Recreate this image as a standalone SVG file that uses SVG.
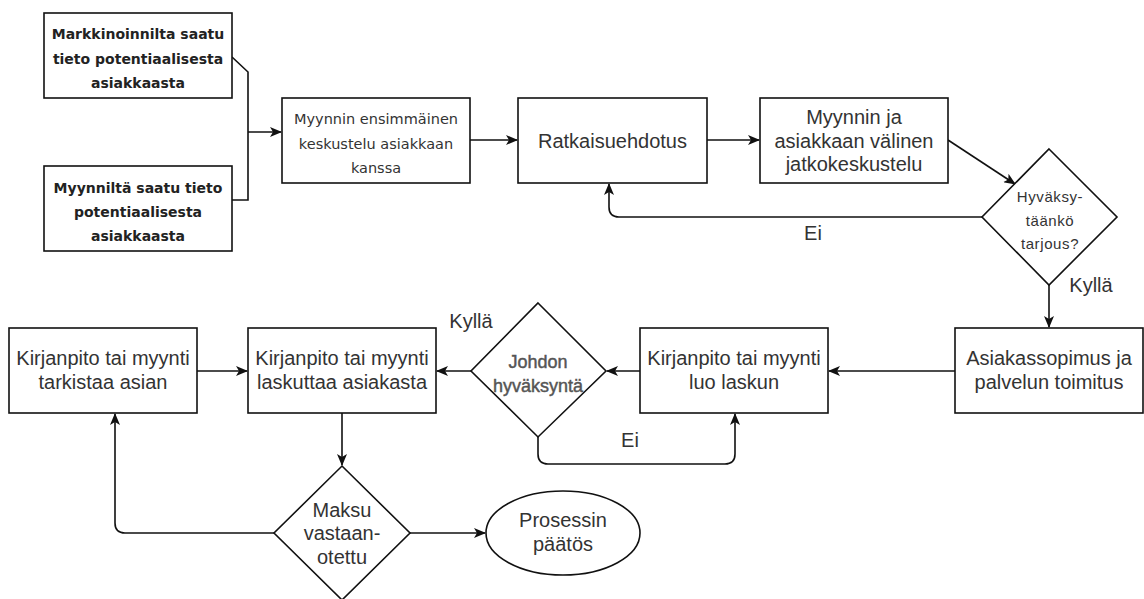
<svg xmlns="http://www.w3.org/2000/svg" width="1144" height="599" viewBox="0 0 1144 599">
  <style>
    .box { fill: #ffffff; stroke: #111111; stroke-width: 1.6; }
    .edge { fill: none; stroke: #111111; stroke-width: 1.6; }
    .t { font-family: "Liberation Sans", Arial, sans-serif; font-size: 20px; fill: #333333; text-anchor: middle; }
    .ts { font-family: "Liberation Sans", Arial, sans-serif; font-size: 15px; fill: #333333; text-anchor: middle; letter-spacing: 0.6px; }
    .tm { font-family: "Liberation Sans", Arial, sans-serif; font-size: 18px; fill: #555555; stroke: #555555; stroke-width: 0.45px; text-anchor: middle; }
    .tb { font-family: "DejaVu Sans", Verdana, sans-serif; font-size: 14px; font-weight: bold; fill: #222222; text-anchor: middle; }
    .tr { font-family: "DejaVu Sans", Verdana, sans-serif; font-size: 14.5px; fill: #333333; text-anchor: middle; }
  </style>
  <defs>
    <marker id="arrow" viewBox="0 0 12 10" refX="11" refY="5" markerWidth="12" markerHeight="10" markerUnits="userSpaceOnUse" orient="auto">
      <path d="M0,0 L12,5 L0,10 L3,5 Z" fill="#111111"/>
    </marker>
  </defs>
  <rect width="1144" height="599" fill="#ffffff"/>

  <!-- connectors -->
  <g id="connectors">
    <path class="edge" d="M232,57 L248,72 L248,200 L232,200"/>
    <path class="edge" d="M248,132 L281,132" marker-end="url(#arrow)"/>
    <path class="edge" d="M470,140 L517,140" marker-end="url(#arrow)"/>
    <path class="edge" d="M707,140 L759,140" marker-end="url(#arrow)"/>
    <path class="edge" d="M948,140 L1015,184" marker-end="url(#arrow)"/>
    <path class="edge" d="M982,217 L619,217 Q609,217 609,207 L609,184" marker-end="url(#arrow)"/>
    <path class="edge" d="M1049,285 L1049,327" marker-end="url(#arrow)"/>
    <path class="edge" d="M955,371 L829,371" marker-end="url(#arrow)"/>
    <path class="edge" d="M640,371 L607,371" marker-end="url(#arrow)"/>
    <path class="edge" d="M538,437 L538,454 Q538,464 548,464 L725,464 Q735,464 735,454 L735,414" marker-end="url(#arrow)"/>
    <path class="edge" d="M471,371 L437,371" marker-end="url(#arrow)"/>
    <path class="edge" d="M197,371 L247,371" marker-end="url(#arrow)"/>
    <path class="edge" d="M342,413 L342,465" marker-end="url(#arrow)"/>
    <path class="edge" d="M274,533 L125,533 Q115,533 115,523 L115,414" marker-end="url(#arrow)"/>
    <path class="edge" d="M410,533 L485,533" marker-end="url(#arrow)"/>
    <text class="t" x="813" y="240">Ei</text>
    <text class="t" x="1091" y="292">Kyllä</text>
    <text class="t" x="471" y="328">Kyllä</text>
    <text class="t" x="630" y="447">Ei</text>
  </g>

  <g id="lead-marketing">
    <rect class="box" x="44" y="13" width="188" height="85"/>
    <text class="tb" x="138" y="39">Markkinoinnilta saatu</text>
    <text class="tb" x="138" y="64">tieto potentiaalisesta</text>
    <text class="tb" x="138" y="88">asiakkaasta</text>
  </g>

  <g id="lead-sales">
    <rect class="box" x="44" y="166" width="188" height="85"/>
    <text class="tb" x="138" y="193">Myynniltä saatu tieto</text>
    <text class="tb" x="138" y="217">potentiaalisesta</text>
    <text class="tb" x="138" y="241">asiakkaasta</text>
  </g>

  <g id="first-meeting">
    <rect class="box" x="282" y="98" width="188" height="85"/>
    <text class="tr" x="376" y="124">Myynnin ensimmäinen</text>
    <text class="tr" x="376" y="149">keskustelu asiakkaan</text>
    <text class="tr" x="376" y="173">kanssa</text>
  </g>

  <g id="proposal">
    <rect class="box" x="518" y="98" width="189" height="85"/>
    <text class="t" x="612.5" y="147.5">Ratkaisuehdotus</text>
  </g>

  <g id="follow-up">
    <rect class="box" x="760" y="98" width="188" height="85"/>
    <text class="t" x="854" y="124">Myynnin ja</text>
    <text class="t" x="854" y="147.5">asiakkaan välinen</text>
    <text class="t" x="854" y="171">jatkokeskustelu</text>
  </g>

  <g id="offer-accepted">
    <polygon class="box" points="1049,149 1117,217 1049,285 982,217"/>
    <text class="ts" x="1050" y="202">Hyväksy-</text>
    <text class="ts" x="1050" y="226">täänkö</text>
    <text class="ts" x="1050" y="249">tarjous?</text>
  </g>

  <g id="contract">
    <rect class="box" x="955" y="328" width="188" height="85"/>
    <text class="t" x="1049" y="365">Asiakassopimus ja</text>
    <text class="t" x="1049" y="389">palvelun toimitus</text>
  </g>

  <g id="create-invoice">
    <rect class="box" x="640" y="328" width="188" height="85"/>
    <text class="t" x="734" y="365">Kirjanpito tai myynti</text>
    <text class="t" x="734" y="389">luo laskun</text>
  </g>

  <g id="management-approval">
    <polygon class="box" points="538,303 606,371 538,437 471,371"/>
    <text class="tm" x="538" y="368">Johdon</text>
    <text class="tm" x="538" y="392">hyväksyntä</text>
  </g>

  <g id="bill-customer">
    <rect class="box" x="248" y="328" width="188" height="85"/>
    <text class="t" x="342" y="365">Kirjanpito tai myynti</text>
    <text class="t" x="342" y="389">laskuttaa asiakasta</text>
  </g>

  <g id="check-case">
    <rect class="box" x="9" y="328" width="188" height="85"/>
    <text class="t" x="103" y="365">Kirjanpito tai myynti</text>
    <text class="t" x="103" y="389">tarkistaa asian</text>
  </g>

  <g id="payment-received">
    <polygon class="box" points="342,466 410,533 342,600 274,533"/>
    <text class="t" x="342" y="517">Maksu</text>
    <text class="t" x="342" y="540">vastaan-</text>
    <text class="t" x="342" y="564">otettu</text>
  </g>

  <g id="process-end">
    <ellipse class="box" cx="563" cy="533" rx="77" ry="42"/>
    <text class="t" x="563" y="527">Prosessin</text>
    <text class="t" x="563" y="551">päätös</text>
  </g>
</svg>
